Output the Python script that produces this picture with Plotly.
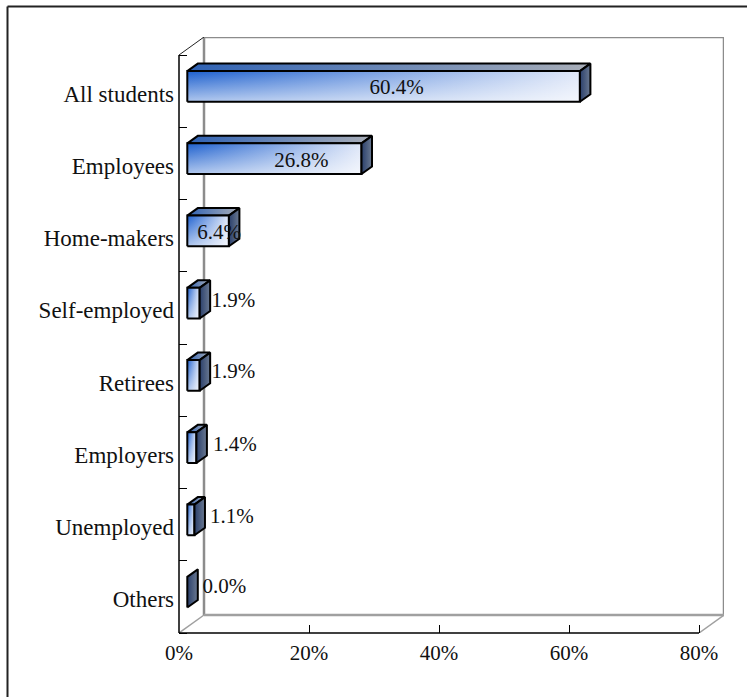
import plotly.graph_objects as go

categories = ["All students", "Employees", "Home-makers", "Self-employed",
              "Retirees", "Employers", "Unemployed", "Others"]
values = [60.4, 26.8, 6.4, 1.9, 1.9, 1.4, 1.1, 0.0]
value_labels = ["60.4%", "26.8%", "6.4%", "1.9%", "1.9%", "1.4%", "1.1%", "0.0%"]
x_ticks = [0, 20, 40, 60, 80]
x_tick_labels = ["0%", "20%", "40%", "60%", "80%"]

# label nudges (pixels from the centre of the bar's front face)
label_nudge_x = [13, 27, 11, 40, 40, 43, 41, 37]
label_nudge_y = [-2, -3, -3, 1, 3, 2, 2, 4]

W, H = 747, 697
L, R, T, B = 179, 724, 37, 633
X_MAX = 80
PX_X = (699 - 179) / X_MAX
PX_Y = (633 - 55) / 8
DEPTH_X = 25 / PX_X
DEPTH_Y = 18 / PX_Y
BAR_X0 = 8.3 / PX_X
BAR_DX = 10.5 / PX_X
BAR_DY = 7.5 / PX_Y
BAR_H = 30.7 / PX_Y
BAR_SHIFT = 4.7 / PX_Y
LABEL_SHIFT = 2.5 / PX_Y
FONT = "Liberation Serif"
FS = 21

fig = go.Figure()


def line(xs, ys, color, width):
    fig.add_trace(go.Scatter(x=xs, y=ys, mode="lines", cliponaxis=False, hoverinfo="skip",
                             line=dict(color=color, width=width), showlegend=False))


def face(xs, ys, kind, stops):
    fig.add_trace(go.Scatter(x=xs + xs[:1], y=ys + ys[:1], mode="none", fill="toself", cliponaxis=False,
                             hoverinfo="skip", showlegend=False,
                             fillgradient=dict(type=kind, colorscale=stops)))


def px_line(x0, y0, x1, y1, color, width):
    return dict(type="line", xref="paper", yref="paper", line=dict(color=color, width=width),
                x0=(x0 - L) / (R - L), x1=(x1 - L) / (R - L),
                y0=(B - y0) / (B - T), y1=(B - y1) / (B - T))


n = len(categories)
# walls
line([DEPTH_X, DEPTH_X, X_MAX + DEPTH_X, X_MAX + DEPTH_X], [DEPTH_Y, n + DEPTH_Y, n + DEPTH_Y, DEPTH_Y], "#8c8c8c", 2.5)
line([DEPTH_X, X_MAX + DEPTH_X], [DEPTH_Y, DEPTH_Y], "#a0a0a0", 2.5)
line([0, DEPTH_X], [0, DEPTH_Y], "#a0a0a0", 1.5)
line([X_MAX, X_MAX + DEPTH_X], [0, DEPTH_Y], "#a0a0a0", 1.5)
line([0, DEPTH_X], [n, n + DEPTH_Y], "#222222", 1)

# bars
OUT = "#000000"
for i, v in enumerate(values):
    yc = n - i - 0.5 + BAR_SHIFT
    x0, x1 = BAR_X0, BAR_X0 + v
    y0, y1 = yc - BAR_H / 2, yc + BAR_H / 2
    xb, yb = BAR_DX, BAR_DY
    if v > 0:
        # top face
        top_x, top_y = [x0, x1, x1 + xb, x0 + xb], [y1, y1, y1 + yb, y1 + yb]
        face(top_x, top_y, "horizontal", [[0, "#2f62b4"], [1, "#a9aeb8"]])
        line(top_x + top_x[:1], top_y + top_y[:1], OUT, 2)
        # front face
        fr_x, fr_y = [x0, x1, x1, x0], [y0, y0, y1, y1]
        face(fr_x, fr_y, "horizontal", [[0, "#1c5fce"], [1, "#dfe7f8"]])
        face(fr_x, fr_y, "vertical", [[0, "rgba(255,255,255,0.65)"], [1, "rgba(255,255,255,0)"]])
        line(fr_x + fr_x[:1], fr_y + fr_y[:1], OUT, 2)
    # side face
    s_x, s_y = [x1, x1 + xb, x1 + xb, x1], [y0, y0 + yb, y1 + yb, y1]
    face(s_x, s_y, "horizontal", [[0, "#2a3f6b"], [1, "#6b7a92"]])
    line(s_x + s_x[:1], s_y + s_y[:1], OUT, 2)

# value labels
fig.add_trace(go.Scatter(
    x=[BAR_X0 + v / 2 + dx / PX_X for v, dx in zip(values, label_nudge_x)],
    y=[n - i - 0.5 + BAR_SHIFT + dy / PX_Y for i, dy in enumerate(label_nudge_y)],
    text=value_labels, mode="text", textposition="middle center", cliponaxis=False,
    hoverinfo="skip", showlegend=False, textfont=dict(family=FONT, size=FS, color="#111111")))

fig.update_layout(
    width=W, height=H, autosize=False, plot_bgcolor="white", paper_bgcolor="white",
    margin=dict(l=L, r=W - R, t=T, b=H - B), showlegend=False,
    font=dict(family=FONT, size=FS, color="#111111"),
    xaxis=dict(range=[0, X_MAX + DEPTH_X], tickvals=x_ticks, ticktext=x_tick_labels, ticks="inside",
               ticklen=8, tickwidth=1, tickcolor="#000000", showline=False,
               showgrid=False, zeroline=False, ticklabelstandoff=5),
    yaxis=dict(range=[0, n + DEPTH_Y], tickvals=[n - i - 0.5 - LABEL_SHIFT for i in range(n)], ticktext=categories,
               tickfont=dict(family=FONT, size=23, color="#111111"),
               ticks="", showline=False, showgrid=False, zeroline=False, ticklabelstandoff=4,
               minor=dict(tickmode="array", tickvals=list(range(n + 1)), ticks="inside", ticklen=8,
                          tickwidth=1, tickcolor="#000000", showgrid=False)),
    shapes=[
        px_line(7.5, 6.5, 747, 6.5, "#222222", 2),
        px_line(7.5, 6.5, 7.5, 697, "#222222", 2),
        px_line(179, 55, 179, 633, "#000000", 1.5),
        px_line(179, 633, 699, 633, "#000000", 1.5),
    ],
)
fig.write_html("out.html", post_script="document.body.style.margin='0';",
               config=dict(displayModeBar=False))
